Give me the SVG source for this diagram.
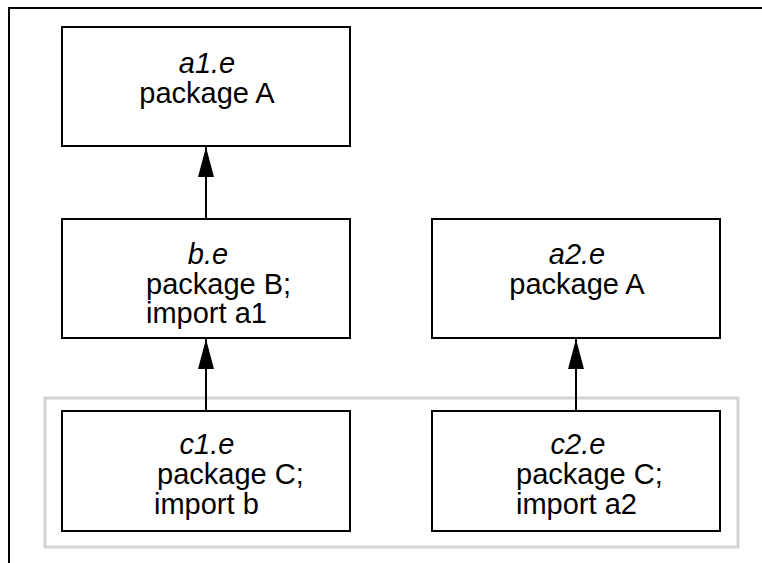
<svg xmlns="http://www.w3.org/2000/svg" width="762" height="563" viewBox="0 0 762 563">
<defs>
<style>
.box{fill:#fff;stroke:#000;stroke-width:2}
.t{font-family:"Liberation Sans",Arial,sans-serif;font-size:29px;fill:#000}
.i{font-style:italic}
.edge{stroke:#000;stroke-width:2;fill:none}
.frame{stroke:#000;stroke-width:2;fill:none}
</style>
<marker id="ah" viewBox="0 0 30 16" refX="30" refY="8" markerWidth="30" markerHeight="16" markerUnits="userSpaceOnUse" orient="auto">
<path d="M0,0 L30,8 L0,16 Z" fill="#000"/>
</marker>
</defs>
<rect width="762" height="563" fill="#fff"/>
<path class="frame" d="M762,8 H9 V563"/>
<rect x="45" y="398" width="693" height="149" fill="none" stroke="#d4d4d4" stroke-width="3"/>
<g id="a1">
<rect class="box" x="62" y="27" width="288" height="119"/>
<text class="t i" x="207" y="73" text-anchor="middle">a1.e</text>
<text class="t" x="207" y="103" text-anchor="middle">package A</text>
</g>
<g id="b">
<rect class="box" x="62" y="219" width="288" height="119"/>
<text class="t i" x="208" y="264" text-anchor="middle">b.e</text>
<text class="t" x="146" y="294">package B;</text>
<text class="t" x="146" y="323">import a1</text>
</g>
<g id="a2">
<rect class="box" x="432" y="219" width="288" height="119"/>
<text class="t i" x="577" y="264" text-anchor="middle">a2.e</text>
<text class="t" x="577" y="294" text-anchor="middle">package A</text>
</g>
<g id="c1">
<rect class="box" x="62" y="411" width="288" height="120"/>
<text class="t i" x="207" y="454" text-anchor="middle">c1.e</text>
<text class="t" x="157" y="484">package C;</text>
<text class="t" x="154" y="514">import b</text>
</g>
<g id="c2">
<rect class="box" x="432" y="411" width="288" height="120"/>
<text class="t i" x="578" y="454" text-anchor="middle">c2.e</text>
<text class="t" x="516" y="484">package C;</text>
<text class="t" x="516" y="514">import a2</text>
</g>
<g id="connectors">
<line class="edge" x1="206" y1="219" x2="206" y2="147" marker-end="url(#ah)"/>
<line class="edge" x1="206" y1="411" x2="206" y2="339" marker-end="url(#ah)"/>
<line class="edge" x1="576" y1="411" x2="576" y2="339" marker-end="url(#ah)"/>
</g>
</svg>
